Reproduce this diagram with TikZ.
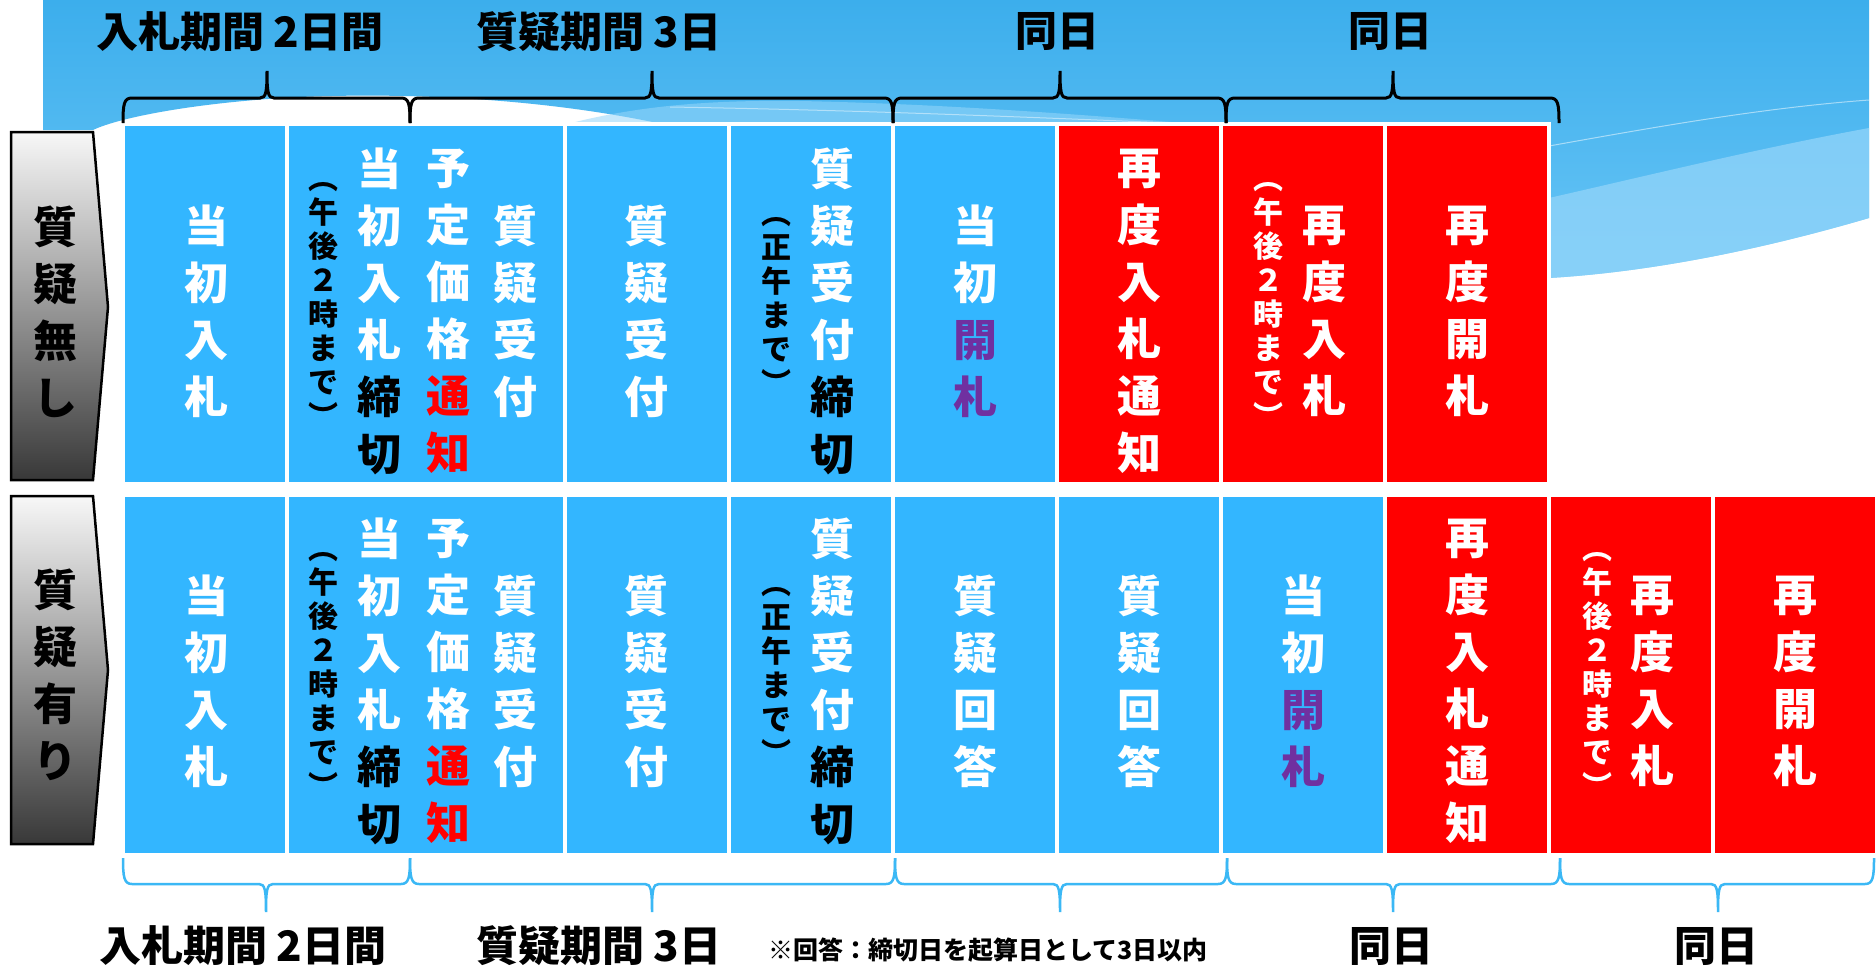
\documentclass[tikz,border=0pt]{standalone}
\usepackage{fontspec}
\newfontfamily\jp{Noto Sans CJK JP}
\definecolor{cellblue}{RGB}{51,182,255}
\definecolor{cellred}{RGB}{255,0,0}
\definecolor{opurple}{RGB}{112,48,160}
\definecolor{bgtop}{RGB}{60,174,236}
\definecolor{bgbot}{RGB}{104,197,246}
\definecolor{bglight}{RGB}{150,214,250}
\definecolor{bracelb}{RGB}{59,184,245}
\tikzset{
 cellb/.style={fill=cellblue, draw=white, line width=4pt},
 cellr/.style={fill=cellred, draw=white, line width=4pt},
 jbig/.style={font=\jp\bfseries\fontsize{44}{57}\selectfont, text=white, align=center, inner sep=0pt},
 jsm/.style={font=\jp\bfseries\fontsize{30}{34}\selectfont, text=black, align=center, inner sep=0pt},
 jlab/.style={font=\jp\bfseries\fontsize{44}{57}\selectfont, text=black, align=center, inner sep=0pt},
 jhead/.style={font=\jp\bfseries\fontsize{42}{50}\selectfont, text=black, inner sep=0pt},
 jnote/.style={font=\jp\bfseries\fontsize{25}{30}\selectfont, text=black, inner sep=0pt},
 tbrace/.style={draw=black, line width=3pt},
 bbrace/.style={draw=bracelb, line width=2.5pt},
 labbox/.style={draw=black, line width=2.5pt, top color=black!3, bottom color=black!78},
}
\newcommand{\mytbrace}[3]{%
 \draw[tbrace] (#1,123) .. controls (#1,104) and (#1+1,98) .. (#1+9,98) -- (#3-7,98) .. controls (#3-1,98) and (#3,92) .. (#3,71) .. controls (#3,92) and (#3+1,98) .. (#3+7,98) -- (#2-9,98) .. controls (#2-1,98) and (#2,104) .. (#2,123);}
\newcommand{\mybbrace}[3]{%
 \draw[bbrace] (#1,858) .. controls (#1,877) and (#1+1,884) .. (#1+9,884) -- (#3-7,884) .. controls (#3-1,884) and (#3,890) .. (#3,912) .. controls (#3,890) and (#3+1,884) .. (#3+7,884) -- (#2-9,884) .. controls (#2-1,884) and (#2,877) .. (#2,858);}
\begin{document}
\begin{tikzpicture}[x=1pt,y=-1pt]
\useasboundingbox (0,0) rectangle (1876,967);
\fill[white] (0,0) rectangle (1876,967);
% background band
\path[top color=bgtop, bottom color=bgbot] (43,0) -- (1869,0) -- (1869,218) .. controls (1760,250) and (1650,272) .. (1549,278) -- (680,278) -- (680,128) .. controls (560,100) and (420,92) .. (300,97) .. controls (200,102) and (120,117) .. (93,130) -- (43,130) -- cycle;
\fill[bglight, opacity=0.55] (560,126) .. controls (640,104) and (720,100) .. (800,101) .. controls (950,104) and (1100,116) .. (1220,126) -- cycle;
\draw[white, opacity=0.45, line width=1pt] (670,107) .. controls (850,110) and (1000,116) .. (1196,124);
\fill[bglight, opacity=0.7] (1549,198) .. controls (1650,175) and (1760,148) .. (1869,128) -- (1869,218) .. controls (1760,250) and (1650,272) .. (1549,278) -- cycle;
\draw[white, opacity=0.5, line width=1pt] (1549,146) .. controls (1650,128) and (1760,108) .. (1869,100);

% row labels
\path[labbox] (11,132) -- (93,132) -- (108,307) -- (93,480) -- (11,480) -- cycle;
\path[labbox] (11,496) -- (93,496) -- (108,670) -- (93,844) -- (11,844) -- cycle;
\node[jlab] (lab1) at (55,312) {質\\疑\\無\\し};
\node[jlab] (lab2) at (55,675) {質\\疑\\有\\り};

% row 1 cells
\path[cellb] (123,124) rectangle (287,484);
\path[cellb] (287,124) rectangle (565,484);
\path[cellb] (565,124) rectangle (729,484);
\path[cellb] (729,124) rectangle (893,484);
\path[cellb] (893,124) rectangle (1057,484);
\path[cellr] (1057,124) rectangle (1221,484);
\path[cellr] (1221,124) rectangle (1385,484);
\path[cellr] (1385,124) rectangle (1549,484);
% row 2 cells
\path[cellb] (123,495) rectangle (287,855);
\path[cellb] (287,495) rectangle (565,855);
\path[cellb] (565,495) rectangle (729,855);
\path[cellb] (729,495) rectangle (893,855);
\path[cellb] (893,495) rectangle (1057,855);
\path[cellb] (1057,495) rectangle (1221,855);
\path[cellb] (1221,495) rectangle (1385,855);
\path[cellr] (1385,495) rectangle (1549,855);
\path[cellr] (1549,495) rectangle (1713,855);
\path[cellr] (1713,495) rectangle (1877,855);

% row 1 texts
\node[jbig] (a1) at (206,311) {当\\初\\入\\札};
\node[jbig] (a2a) at (515,311) {質\\疑\\受\\付};
\node[jbig] (a2b) at (448,311) {予\\定\\価\\格\\{\color{red}通}\\{\color{red}知}};
\node[jbig] (a2c) at (379,311) {当\\初\\入\\札\\{\color{black}締}\\{\color{black}切}};
\node[jsm] (a2d) at (323,305) {︵\\午\\後\\２\\時\\ま\\で\\︶};
\node[jbig] (a3) at (646,311) {質\\疑\\受\\付};
\node[jbig] (a4a) at (832,311) {質\\疑\\受\\付\\{\color{black}締}\\{\color{black}切}};
\node[jsm] (a4b) at (776,306) {︵\\正\\午\\ま\\で\\︶};
\node[jbig] (a5) at (975,311) {当\\初\\{\color{opurple}開}\\{\color{opurple}札}};
\node[jbig] (a6) at (1139,311) {再\\度\\入\\札\\通\\知};
\node[jbig] (a7a) at (1324,311) {再\\度\\入\\札};
\node[jsm, text=white] (a7b) at (1268,305) {︵\\午\\後\\２\\時\\ま\\で\\︶};
\node[jbig] (a8) at (1467,311) {再\\度\\開\\札};

% row 2 texts
\node[jbig] (b1) at (206,681) {当\\初\\入\\札};
\node[jbig] (b2a) at (515,681) {質\\疑\\受\\付};
\node[jbig] (b2b) at (448,681) {予\\定\\価\\格\\{\color{red}通}\\{\color{red}知}};
\node[jbig] (b2c) at (379,681) {当\\初\\入\\札\\{\color{black}締}\\{\color{black}切}};
\node[jsm] (b2d) at (323,675) {︵\\午\\後\\２\\時\\ま\\で\\︶};
\node[jbig] (b3) at (646,681) {質\\疑\\受\\付};
\node[jbig] (b4a) at (832,681) {質\\疑\\受\\付\\{\color{black}締}\\{\color{black}切}};
\node[jsm] (b4b) at (776,676) {︵\\正\\午\\ま\\で\\︶};
\node[jbig] (b5) at (975,681) {質\\疑\\回\\答};
\node[jbig] (b6) at (1139,681) {質\\疑\\回\\答};
\node[jbig] (b7) at (1303,681) {当\\初\\{\color{opurple}開}\\{\color{opurple}札}};
\node[jbig] (b8) at (1467,681) {再\\度\\入\\札\\通\\知};
\node[jbig] (b9a) at (1652,681) {再\\度\\入\\札};
\node[jsm, text=white] (b9b) at (1597,675) {︵\\午\\後\\２\\時\\ま\\で\\︶};
\node[jbig] (b10) at (1795,681) {再\\度\\開\\札};

% braces
\mytbrace{123}{410}{267}
\mytbrace{410}{893}{652}
\mytbrace{893}{1226}{1060}
\mytbrace{1226}{1559}{1393}
\mybbrace{123}{410}{266}
\mybbrace{410}{895}{652}
\mybbrace{895}{1227}{1060}
\mybbrace{1227}{1560}{1393}
\mybbrace{1560}{1874}{1718}

% header / footer labels
\node[jhead] (h1) at (240,32) {入札期間 2日間};
\node[jhead] (h2) at (599,32) {質疑期間 3日};
\node[jhead] (h3) at (1057,32) {同日};
\node[jhead] (h4) at (1390,32) {同日};
\node[jhead] (f1) at (243,946) {入札期間 2日間};
\node[jhead] (f2) at (599,946) {質疑期間 3日};
\node[jnote] (f3) at (988,950) {※回答：締切日を起算日として3日以内};
\node[jhead] (f4) at (1391,946) {同日};
\node[jhead] (f5) at (1716,946) {同日};
\end{tikzpicture}
\end{document}
